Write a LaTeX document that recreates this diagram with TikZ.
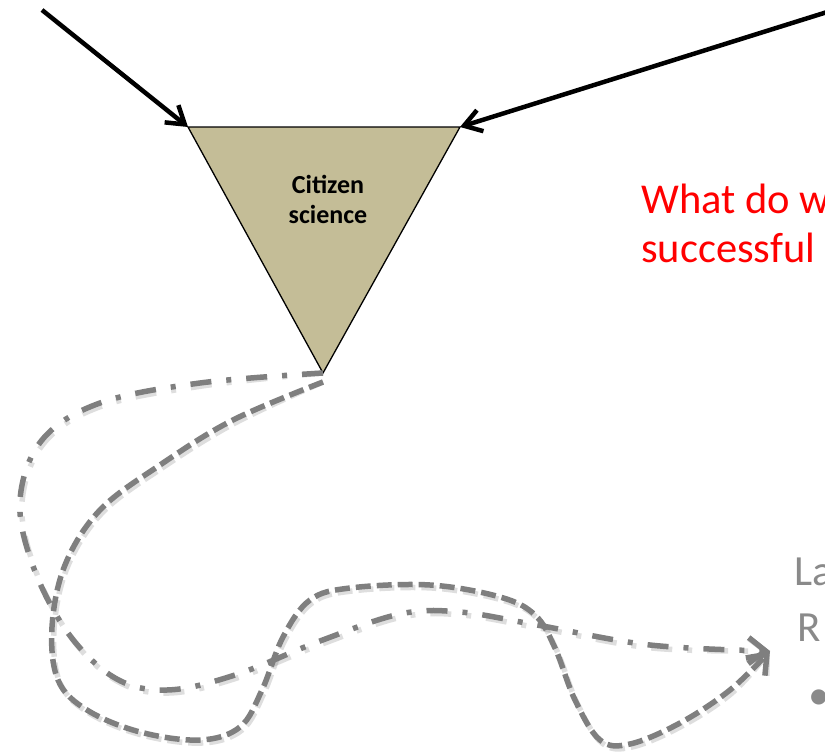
\documentclass[tikz,border=0pt]{standalone}
\usepackage{fontspec}
\setmainfont{Carlito}
\usetikzlibrary{arrows.meta}
\definecolor{tanfill}{HTML}{C4BD97}
\definecolor{curvegray}{HTML}{7F7F7F}
\definecolor{textgray}{HTML}{8A8A8A}
\definecolor{qred}{HTML}{FF0000}
\newcommand{\ddcoords}{(bot) (200,383) (100,403) (42,440) (20,500) (33,566) (68,633) (115,678) (167,690) (235,675) (320,641) (400,614) (460,612) (537,625) (650,645) (tipA)}
\newcommand{\dcoords}{(bot2) (233,420) (160,465) (100,510) (65,565) (52,627) (58,680) (87,710) (140,732) (200,740) (240,727) (262,690) (283,637) (310,600) (350,588) (430,585) (500,597) (535,615) (555,648) (575,700) (600,740) (630,744) (680,723) (730,690) (tipB)}
\begin{document}
\begin{tikzpicture}[x=1pt,y=-1pt,
  blackarrow/.style={line width=4.5pt,-{Straight Barb[length=17pt,width=22pt]}},
  graytip/.style={-{Straight Barb[length=17pt,width=26pt]}},
  ddcurve/.style={curvegray,line width=5.5pt,dash pattern=on 21pt off 15pt on 5pt off 15pt,graytip},
  dcurve/.style={curvegray,line width=5.5pt,dash pattern=on 15pt off 6pt,graytip},
  shadowcurve/.style={draw=black,opacity=0.13},
  tri/.style={fill=tanfill,draw=black,line width=1.3pt,line join=miter},
  lbl/.style={font=\bfseries\fontsize{26}{30}\selectfont,align=center,inner sep=0pt},
  redtext/.style={text=qred,font=\fontsize{42.5}{49}\selectfont,anchor=base west,inner sep=0pt},
  graytext/.style={text=textgray,font=\fontsize{43}{52}\selectfont,anchor=base west,inner sep=0pt}
]
\useasboundingbox (0,0) rectangle (825,752);
\clip (0,0) rectangle (825,752);

% triangle
\coordinate (tl) at (188,127);
\coordinate (tr) at (460,127);
\coordinate (bot) at (323,373);
\coordinate (bot2) at (323,382);
\draw[tri] (tl) -- (tr) -- (bot) -- cycle;
\node[lbl] (cs) at (328,199) {Citizen\\science};

% black incoming arrows
\coordinate (a1) at (42,10);
\coordinate (a2) at (840,8);
\draw[blackarrow] (a1) -- (tl);
\draw[blackarrow] (a2) -- (tr);

% gray curves
\coordinate (tipA) at (770,651);
\coordinate (tipB) at (770,651);
\begin{scope}[shift={(2,3)}]
  \draw[ddcurve,shadowcurve] plot[smooth,tension=0.6] coordinates {\ddcoords};
  \draw[dcurve,shadowcurve] plot[smooth,tension=0.6] coordinates {\dcoords};
\end{scope}
\draw[ddcurve] plot[smooth,tension=0.6] coordinates {\ddcoords};
\draw[dcurve] plot[smooth,tension=0.6] coordinates {\dcoords};

% texts
\node[redtext] (q1) at (641,213) {What do w};
\node[redtext] (q2) at (641,262) {successful};
\node[graytext] (g1) at (794,585) {La};
\node[graytext] (g2) at (797,641) {R};
\node[graytext] (g3) at (808,709) {•};
\end{tikzpicture}
\end{document}
